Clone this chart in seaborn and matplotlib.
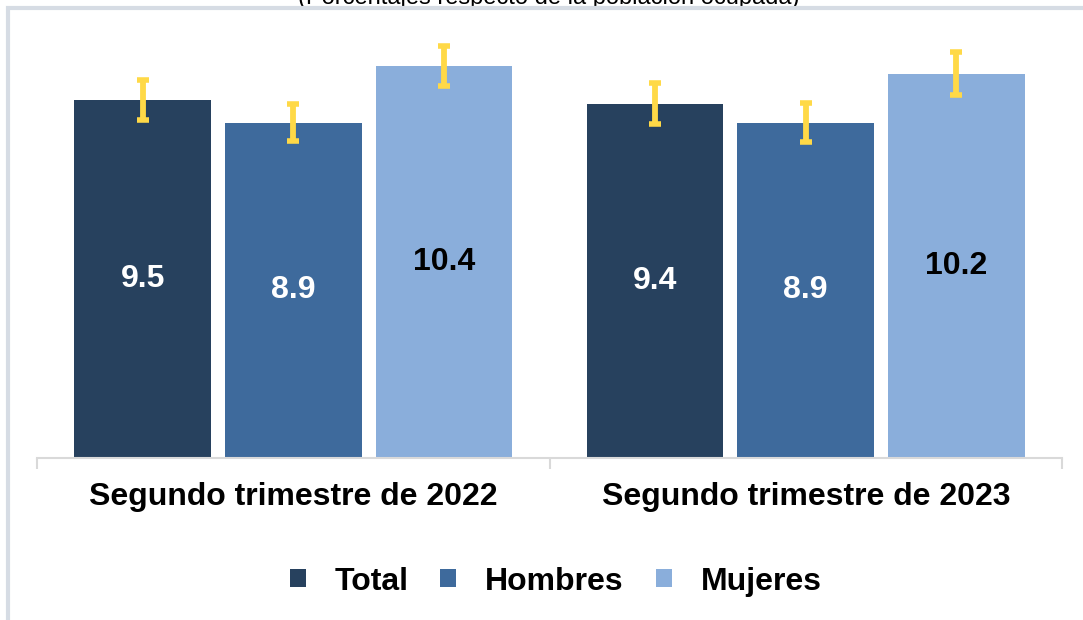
import pandas as pd
import seaborn as sns
import matplotlib.pyplot as plt
from matplotlib.patches import Rectangle

# datos
periodos = ['Segundo trimestre de 2022', 'Segundo trimestre de 2023']
grupos = ['Total', 'Hombres', 'Mujeres']
total = [9.5, 9.4]
hombres = [8.9, 8.9]
mujeres = [10.4, 10.2]
# semiamplitud del intervalo (barras amarillas)
err_total = [0.52, 0.54]
err_hombres = [0.48, 0.52]
err_mujeres = [0.53, 0.57]

colores = ['#27415E', '#3E6A9C', '#8AAEDB']
color_texto = ['white', 'white', 'black']
amarillo = '#FFD947'
gris = '#D9D9D9'

df = pd.DataFrame({
    'periodo': periodos * 3,
    'grupo': [g for g in grupos for _ in periodos],
    'valor': total + hombres + mujeres,
    'err': err_total + err_hombres + err_mujeres,
})

sns.set_theme(style='white')
plt.rcParams['font.family'] = ['Liberation Sans', 'DejaVu Sans']
plt.rcParams['text.color'] = 'black'

fig = plt.figure(figsize=(10.83, 6.2), dpi=100)
ax = fig.add_axes([37/1083, 1-458/620, 1025/1083, 438/620])

sns.barplot(data=df, x='periodo', y='valor', hue='grupo', order=periodos,
            hue_order=grupos, palette=colores, width=0.882, gap=0.092,
            errorbar=None, linewidth=0, saturation=1, ax=ax)

# barras de error y etiquetas
barras = list(ax.containers)
for i, cont in enumerate(barras):
    sub = df[df.grupo == grupos[i]]
    xs = [p.get_x() + p.get_width()/2 for p in cont.patches]
    ax.errorbar(xs, sub['valor'], yerr=sub['err'], fmt='none', ecolor=amarillo,
                elinewidth=4.2, capsize=4.5, capthick=4, zorder=5)
    ax.bar_label(cont, labels=[f'{v:.1f}' for v in sub['valor']], label_type='center',
                 color=color_texto[i], fontsize=23, fontweight='bold')

ax.set_ylim(0, 11.62)
ax.set_xlim(-0.5, 1.5)
ax.set_xlabel('')
ax.set_ylabel('')
ax.set_yticks([])
for s in ['top', 'left', 'right']:
    ax.spines[s].set_visible(False)
ax.spines['bottom'].set_color(gris)
ax.spines['bottom'].set_linewidth(1.5)
ax.tick_params(axis='x', which='major', length=0, pad=17, labelsize=23, labelcolor='black')
for t in ax.get_xticklabels():
    t.set_fontweight('bold')
ax.set_xticks([-0.5, 0.5, 1.5], minor=True)
ax.tick_params(axis='x', which='minor', bottom=True, length=8, width=1.5, color=gris,
               direction='out')

sns.move_legend(ax, 'center', bbox_to_anchor=(0.513, 0.062), bbox_transform=fig.transFigure,
                ncol=3, frameon=False, title=None, fontsize=23, handlelength=0.5,
                handleheight=0.5, handletextpad=0.9, columnspacing=1.0)
for t in ax.get_legend().get_texts():
    t.set_fontweight('bold')
    t.set_color('black')

# titulo recortado en la parte superior
fig.text(0.507, 1 - 4/620, '(Porcentajes respecto de la población ocupada)',
         ha='center', va='baseline', fontsize=17, color='black')

# marco gris claro
fig.add_artist(Rectangle((8/1083, -0.1), 1.2, 1 - 8/620 + 0.1, transform=fig.transFigure,
                         fill=False, ec='#D6DCE4', lw=3, zorder=10))

fig.savefig('out.png', dpi=100)
